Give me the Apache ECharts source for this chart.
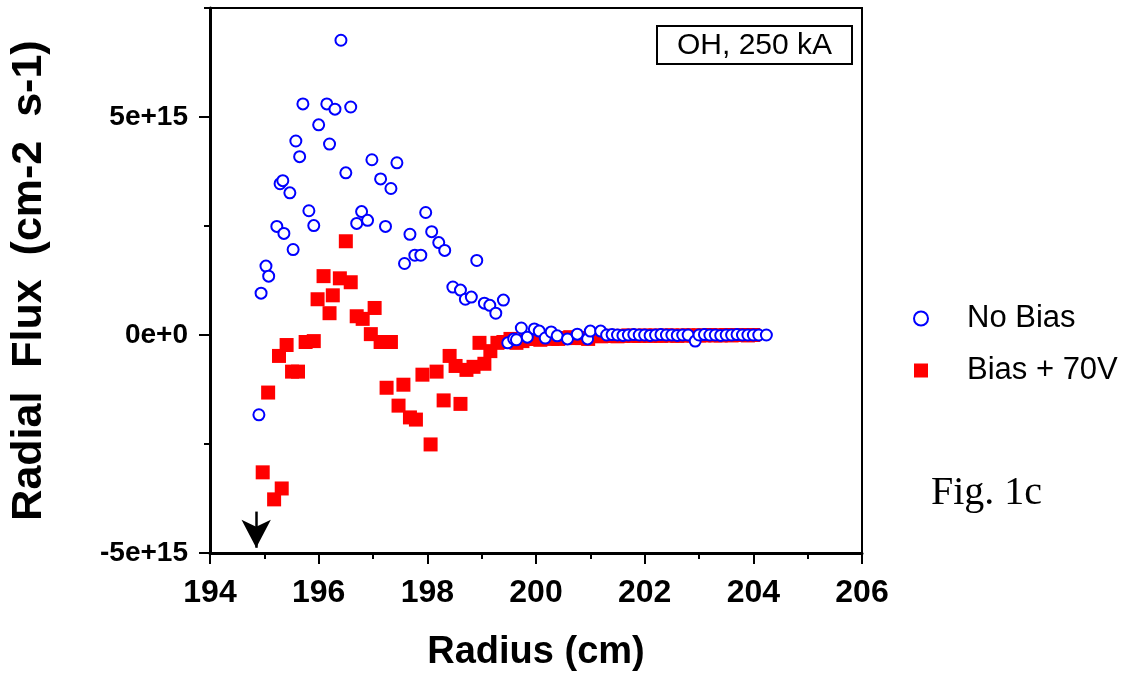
<!DOCTYPE html>
<html>
<head>
<meta charset="utf-8">
<script src="https://cdn.jsdelivr.net/npm/echarts@6/dist/echarts.min.js"></script>
<style>html,body{margin:0;padding:0;background:#fff}#c{width:1129px;height:677px}</style>
</head>
<body>
<div id="c"></div>
<script>
// ---- data ----
const noBiasX = [194.90,194.94,195.03,195.08,195.23,195.29,195.34,195.36,195.47,195.53,195.58,195.65,195.71,195.82,195.91,196.00,196.15,196.20,196.30,196.41,196.50,196.59,196.70,196.79,196.90,196.98,197.14,197.23,197.33,197.44,197.58,197.68,197.77,197.88,197.97,198.08,198.21,198.32,198.47,198.61,198.70,198.81,198.91,199.05,199.15,199.26,199.40,199.48,199.59,199.64,199.73,199.84,199.97,200.06,200.17,200.28,200.39,200.58,200.76,200.95,201.00,201.19,201.30,201.40,201.50,201.60,201.70,201.80,201.90,202.00,202.10,202.20,202.30,202.40,202.50,202.60,202.70,202.80,202.93,203.00,203.10,203.20,203.30,203.40,203.50,203.60,203.70,203.80,203.90,204.00,204.10,204.24];
const noBiasY = [-1.83e15,0.96e15,1.58e15,1.35e15,2.49e15,3.47e15,3.54e15,2.33e15,3.26e15,1.96e15,4.45e15,4.09e15,5.30e15,2.85e15,2.51e15,4.82e15,5.30e15,4.38e15,5.18e15,6.76e15,3.72e15,5.23e15,2.56e15,2.83e15,2.63e15,4.02e15,3.58e15,2.49e15,3.36e15,3.95e15,1.64e15,2.31e15,1.83e15,1.83e15,2.81e15,2.37e15,2.12e15,1.94e15,1.10e15,1.03e15,0.82e15,0.87e15,1.71e15,0.73e15,0.68e15,0.50e15,0.80e15,-0.18e15,-0.09e15,-0.11e15,0.16e15,-0.05e15,0.14e15,0.09e15,-0.07e15,0.07e15,-0.02e15,-0.09e15,0.02e15,-0.09e15,0.09e15,0.09e15,0.00e15,0.01e15,0.00e15,-0.01e15,0.00e15,0.01e15,0.00e15,0.00e15,-0.01e15,0.00e15,0.01e15,0.00e15,0.00e15,-0.01e15,0.00e15,0.00e15,-0.14e15,0.00e15,0.01e15,0.00e15,0.00e15,-0.01e15,0.00e15,0.00e15,0.01e15,0.00e15,0.00e15,0.00e15,0.00e15,0.00e15];

const biasX = [194.97,195.07,195.18,195.27,195.32,195.41,195.51,195.62,195.76,195.91,195.98,196.09,196.20,196.26,196.39,196.50,196.59,196.70,196.81,196.96,197.03,197.14,197.25,197.33,197.47,197.56,197.68,197.79,197.91,198.06,198.17,198.30,198.41,198.52,198.61,198.72,198.85,198.96,199.05,199.16,199.29,199.40,199.53,199.64,199.75,199.86,199.99,200.08,200.19,200.30,200.41,200.54,200.63,200.74,200.85,200.96,201.07,201.20,201.30,201.40,201.50,201.60,201.70,201.80,201.90,202.00,202.10,202.20,202.30,202.40,202.50,202.60,202.70,202.80,202.90,203.00,203.10,203.20,203.30,203.40,203.50,203.60,203.70,203.80,203.90,204.00];
const biasY = [-3.15e15,-1.32e15,-3.77e15,-0.48e15,-3.52e15,-0.23e15,-0.84e15,-0.84e15,-0.16e15,-0.14e15,0.82e15,1.35e15,0.50e15,0.91e15,1.30e15,2.15e15,1.21e15,0.43e15,0.37e15,0.02e15,0.62e15,-0.16e15,-1.21e15,-0.16e15,-1.62e15,-1.14e15,-1.89e15,-1.94e15,-0.91e15,-2.51e15,-0.84e15,-1.50e15,-0.48e15,-0.71e15,-1.58e15,-0.80e15,-0.73e15,-0.18e15,-0.66e15,-0.37e15,-0.18e15,-0.16e15,-0.09e15,-0.18e15,-0.14e15,-0.09e15,-0.09e15,-0.11e15,-0.07e15,-0.09e15,-0.09e15,-0.07e15,-0.05e15,-0.07e15,-0.07e15,-0.09e15,-0.02e15,-0.03e15,-0.02e15,-0.02e15,-0.03e15,-0.02e15,-0.01e15,-0.02e15,-0.02e15,-0.01e15,-0.02e15,-0.01e15,-0.02e15,-0.01e15,-0.01e15,-0.02e15,-0.01e15,-0.01e15,-0.01e15,-0.01e15,-0.01e15,0.00e15,-0.01e15,-0.01e15,0.00e15,-0.01e15,0.00e15,0.00e15,-0.01e15,0.00e15];

const seriesNames = ['No Bias', 'Bias + 70V'];
const xTickLabels = ['194','196','198','200','202','204','206'];
const yTickValues = [-5e15, 0, 5e15];
const yTickLabels = ['-5e+15', '0e+0', '5e+15'];
const arrowX = 194.85;
const arrowFromY = -4.05e15;
const arrowToY = -4.88e15;

// ---- chart ----
const chart = echarts.init(document.getElementById('c'), null, {renderer: 'canvas'});
const zip = (xs, ys) => xs.map((x, i) => [x, ys[i]]);
const FONT = "'Liberation Sans', Arial, Helvetica, sans-serif";

chart.setOption({
  animation: false,
  backgroundColor: '#fff',
  grid: {left: 209, right: 267, top: 8, bottom: 123, show: true, borderColor: '#000', borderWidth: 2},
  title: {
    text: 'OH, 250 kA', left: 657, top: 26, padding: [5, 20, 3, 20],
    borderColor: '#000', borderWidth: 2,
    textStyle: {fontSize: 30, fontWeight: 'normal', fontFamily: FONT, color: '#000'}
  },
  legend: {
    orient: 'vertical', left: 908, top: 298, itemWidth: 14, itemHeight: 14, itemGap: 21,
    textStyle: {fontSize: 31, fontFamily: FONT, color: '#000', padding: [0, 0, 0, 34]},
    data: [
      {name: seriesNames[0], icon: 'emptyCircle', itemStyle: {borderWidth: 3, opacity: 1}},
      {name: seriesNames[1], icon: 'rect', itemStyle: {opacity: 1}}
    ]
  },
  xAxis: {
    type: 'value', min: 194, max: 206, interval: 2,
    name: 'Radius (cm)', nameLocation: 'middle', nameGap: 81,
    nameTextStyle: {fontSize: 38, fontWeight: 'bold', fontFamily: FONT, color: '#000'},
    axisLine: {show: true, onZero: false, lineStyle: {color: '#000', width: 3}},
    axisTick: {show: true, inside: false, length: 11, lineStyle: {color: '#000', width: 2}},
    minorTick: {show: true, splitNumber: 2, length: 6, lineStyle: {color: '#000', width: 2}},
    axisLabel: {margin: 24, fontSize: 32, fontWeight: 'bold', fontFamily: FONT, color: '#000',
      formatter: v => { const s = String(Math.round(v)); return xTickLabels.indexOf(s) >= 0 ? s : ''; }},
    splitLine: {show: false}, minorSplitLine: {show: false}
  },
  yAxis: [
    {
      type: 'value', min: -5e15, max: 7.5e15, interval: 2.5e15, position: 'left',
      name: 'Radial  Flux  (cm-2  s-1)', nameLocation: 'middle', nameGap: 159, nameRotate: 90,
      nameTextStyle: {fontSize: 43, fontWeight: 'bold', fontFamily: FONT, color: '#000'},
      axisLine: {show: true, onZero: false, lineStyle: {color: '#000', width: 3}},
      axisTick: {show: true, inside: false, length: 6, lineStyle: {color: '#000', width: 2}},
      axisLabel: {margin: 22, fontSize: 28, fontWeight: 'bold', fontFamily: FONT, color: '#000',
        formatter: v => { const i = yTickValues.indexOf(v); return i >= 0 ? yTickLabels[i] : ''; }},
      splitLine: {show: false}
    },
    {
      type: 'value', min: -5e15, max: 7.5e15, interval: 2.5e15, position: 'left',
      axisLine: {show: false},
      axisTick: {show: true, inside: false, length: 11, customValues: yTickValues, lineStyle: {color: '#000', width: 2}},
      axisLabel: {show: false},
      splitLine: {show: false}
    }
  ],
  series: [
    {
      name: seriesNames[1], type: 'scatter', z: 2,
      symbol: 'rect', symbolSize: 14,
      itemStyle: {color: '#ff0000', opacity: 1},
      data: zip(biasX, biasY),
      markLine: {
        silent: true, symbol: ['none', 'arrow'], symbolSize: [22, 28],
        lineStyle: {color: '#000', width: 2.5, type: 'solid'},
        label: {show: false},
        data: [[{coord: [arrowX, arrowFromY]}, {coord: [arrowX, arrowToY]}]]
      }
    },
    {
      name: seriesNames[0], type: 'scatter', z: 3,
      symbol: 'emptyCircle', symbolSize: 11,
      itemStyle: {color: '#0000ff', borderColor: '#0000ff', borderWidth: 2.8, opacity: 1},
      data: zip(noBiasX, noBiasY)
    }
  ],
  graphic: [
    {type: 'text', left: 931, top: 473, style: {text: 'Fig. 1c', font: "40px 'Liberation Serif', 'Times New Roman', serif", fill: '#000'}}
  ]
});
</script>
</body>
</html>
